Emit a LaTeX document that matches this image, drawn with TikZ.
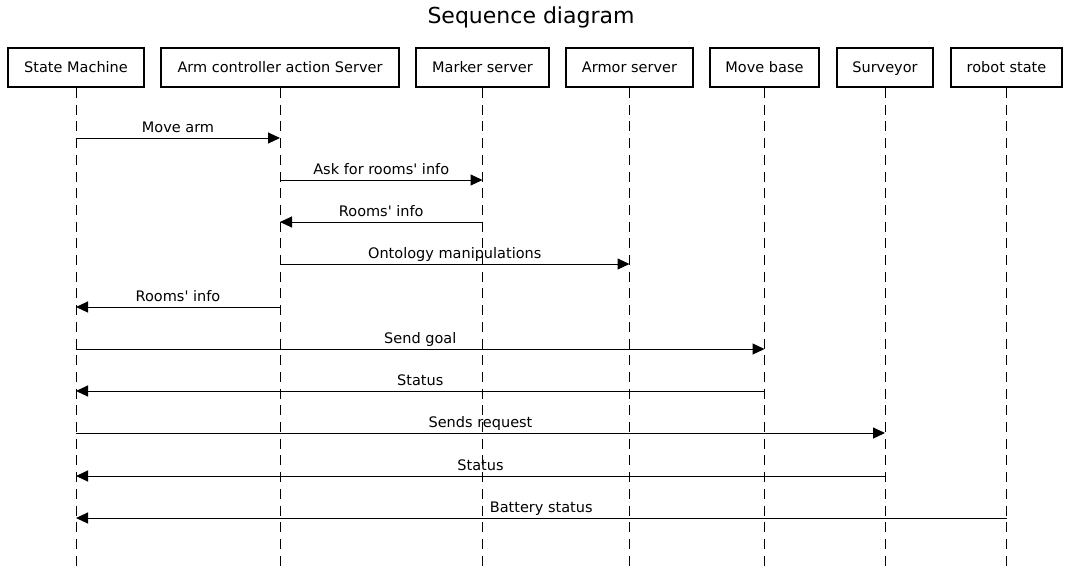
\documentclass[tikz,border=0pt]{standalone}
\usepackage{fontspec}
\setmainfont{DejaVu Sans}
\usetikzlibrary{arrows.meta}
\begin{document}
\begin{tikzpicture}[x=1pt,y=-1pt,
  actor/.style={draw, line width=2pt, minimum height=39pt, inner sep=0pt, text height=12.5pt, text depth=3pt, font=\fontsize{14.5}{17}\selectfont},
  life/.style={line width=1pt, dash pattern=on 10pt off 6.7pt},
  msg/.style={line width=1pt, -{Triangle[length=12pt,width=11pt]}},
  lbl/.style={font=\fontsize{14.5}{17}\selectfont, inner sep=0pt, anchor=base, yshift=6pt}]
\useasboundingbox (0,0) rectangle (1070,571);
\node[font=\fontsize{22}{26}\selectfont, anchor=base, inner sep=0pt] (title) at (531,23) {Sequence diagram};
\node[actor, minimum width=136pt] (sm) at (76,67.5) {State Machine};
\node[actor, minimum width=238pt] (arm) at (280,67.5) {Arm controller action Server};
\node[actor, minimum width=133pt] (mk) at (482.5,67.5) {Marker server};
\node[actor, minimum width=127pt] (ar) at (629.5,67.5) {Armor server};
\node[actor, minimum width=109pt] (mb) at (764.5,67.5) {Move base};
\node[actor, minimum width=96pt] (sv) at (885,67.5) {Surveyor};
\node[actor, minimum width=111pt] (rs) at (1006.5,67.5) {robot state};
\foreach \n in {sm,arm,mk,ar,mb,sv,rs}{
  \coordinate (\n-end) at (\n |- 0,566);
  \draw[life] (\n.south) -- (\n-end);
}
\draw[msg] (sm |- 0,138) -- node[lbl]{Move arm} (arm |- 0,138);
\draw[msg] (arm |- 0,180) -- node[lbl]{Ask for rooms\textquotesingle{} info} (mk |- 0,180);
\draw[msg] (mk |- 0,222) -- node[lbl]{Rooms\textquotesingle{} info} (arm |- 0,222);
\draw[msg] (arm |- 0,264) -- node[lbl]{Ontology manipulations} (ar |- 0,264);
\draw[msg] (arm |- 0,307) -- node[lbl]{Rooms\textquotesingle{} info} (sm |- 0,307);
\draw[msg] (sm |- 0,349) -- node[lbl]{Send goal} (mb |- 0,349);
\draw[msg] (mb |- 0,391) -- node[lbl]{Status} (sm |- 0,391);
\draw[msg] (sm |- 0,433) -- node[lbl]{Sends request} (sv |- 0,433);
\draw[msg] (sv |- 0,476) -- node[lbl]{Status} (sm |- 0,476);
\draw[msg] (rs |- 0,518) -- node[lbl]{Battery status} (sm |- 0,518);
\end{tikzpicture}
\end{document}
